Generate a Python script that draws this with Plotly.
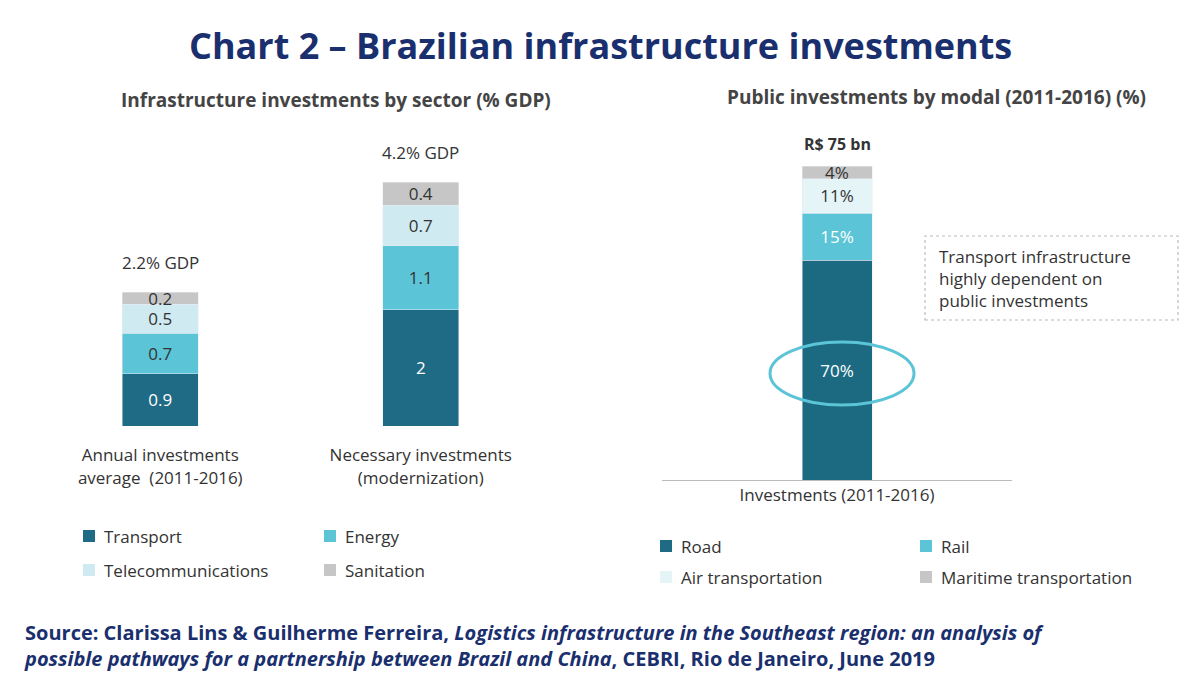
import plotly.graph_objects as go

# left chart: infrastructure investments by sector (% GDP)
cats_left = ["Annual investments<br>average  (2011-2016)", "Necessary investments<br>(modernization)"]
transport = [0.9, 2]
energy = [0.7, 1.1]
telecom = [0.5, 0.7]
sanitation = [0.2, 0.4]
totals_left = ["2.2% GDP", "4.2% GDP"]

# right chart: public investments by modal (%)
cats_right = ["Investments (2011-2016)"]
road = [70]
rail = [15]
air = [11]
maritime = [4]

c_dark = "#1f6b85"
c_mid = "#5bc4d6"
c_light = "#cfeaf0"
c_gray = "#c6c6c6"
txt = "#333333"
navy = "#1a2f6e"

W, H, OFF = 1200, 675, 8


def fx(p):
    return (p - OFF) / W


def fy(p):
    return 1 - (p - OFF) / H


fig = go.Figure()

xl = list(range(len(cats_left)))
for vals, col, fc in [(transport, c_dark, "white"), (energy, c_mid, txt),
                      (telecom, c_light, txt), (sanitation, c_gray, txt)]:
    fig.add_bar(x=xl, y=vals, marker_color=col, width=0.29, text=[str(v) for v in vals],
                textposition="inside", insidetextanchor="middle",
                textfont=dict(size=17, color=fc), xaxis="x", yaxis="y", showlegend=False)

for vals, col, fc, lab in [(road, "#1c6a82", "white", ["70%"]), (rail, c_mid, "white", ["15%"]),
                           (air, "#e4f4f7", txt, ["11%"]), (maritime, c_gray, txt, ["4%"])]:
    fig.add_bar(x=[0], y=vals, marker_color=col, width=0.2, text=lab,
                textposition="inside", insidetextanchor="middle",
                textfont=dict(size=17, color=fc), xaxis="x2", yaxis="y2", showlegend=False)

fig.update_layout(
    barmode="stack", width=W, height=H, margin=dict(l=0, r=0, t=0, b=0),
    plot_bgcolor="white", paper_bgcolor="white",
    font=dict(family="Open Sans", color=txt),
    uniformtext=dict(mode="show", minsize=15),
    xaxis=dict(domain=[fx(30), fx(551)], range=[-0.5, 1.5], tickvals=xl, ticktext=cats_left,
               showgrid=False, zeroline=False, showline=False,
               tickfont=dict(size=17, color=txt), ticks="outside", ticklen=14, tickcolor="white",
               anchor="y"),
    yaxis=dict(domain=[fy(426), fy(182)], range=[0, 4.2], visible=False),
    xaxis2=dict(domain=[fx(662), fx(1012)], range=[-0.5, 0.5], tickvals=[0], ticktext=cats_right,
                showgrid=False, zeroline=False, showline=True, linecolor="#bbb", linewidth=1,
                tickfont=dict(size=17, color=txt), ticks="", anchor="y2"),
    yaxis2=dict(domain=[fy(480), fy(166)], range=[0, 100], visible=False, anchor="x2"),
)

ann = [
    dict(text="<b>Chart 2 – Brazilian infrastructure investments</b>", x=fx(600), y=fy(45),
         font=dict(size=36, color=navy, family="Open Sans"), showarrow=False, xref="paper", yref="paper"),
    dict(text="<b>Infrastructure investments by sector (% GDP)</b>", x=fx(336), y=fy(100),
         font=dict(size=19, color="#444"), showarrow=False, xref="paper", yref="paper"),
    dict(text="<b>Public investments by modal (2011-2016) (%)</b>", x=fx(936), y=fy(97),
         font=dict(size=19, color="#444"), showarrow=False, xref="paper", yref="paper"),
    dict(text="<b>R$ 75 bn</b>", x=0, y=100, xref="x2", yref="y2", yshift=22, showarrow=False,
         font=dict(size=16, color=txt)),
    dict(text="Transport infrastructure<br>highly dependent on<br>public investments", x=fx(937),
         y=fy(278), xref="paper", yref="paper", xanchor="left", align="left", showarrow=False,
         font=dict(size=17, color=txt)),
    dict(text="<b>Source: Clarissa Lins & Guilherme Ferreira, <i>Logistics infrastructure in the Southeast region: an analysis of<br>"
              "possible pathways for a partnership between Brazil and China</i>, CEBRI, Rio de Janeiro, June 2019</b>",
         x=fx(22), y=fy(645), xref="paper", yref="paper", xanchor="left", align="left",
         showarrow=False, font=dict(size=20, color=navy)),
]
for i, t in enumerate(totals_left):
    tot = transport[i] + energy[i] + telecom[i] + sanitation[i]
    ann.append(dict(text=t, x=xl[i], y=tot, xref="x", yref="y", yshift=30, showarrow=False,
                    font=dict(size=17, color=txt)))
for a in ann:
    a.setdefault("xanchor", "center")
    a["yanchor"] = "middle"

shapes = [
    dict(type="rect", xref="paper", yref="paper", x0=fx(925), x1=fx(1178),
         y0=fy(320), y1=fy(236), line=dict(color="#bbb", width=1.2, dash="dot")),
    dict(type="circle", xref="paper", yref="paper", x0=fx(770), x1=fx(914),
         y0=fy(405), y1=fy(342), line=dict(color=c_mid, width=3)),
]

legends = [
    (["Transport", "Energy", "Telecommunications", "Sanitation"], [c_dark, c_mid, c_light, c_gray],
     [83, 324], [536, 570]),
    (["Road", "Rail", "Air transportation", "Maritime transportation"], [c_dark, c_mid, "#e4f4f7", c_gray],
     [660, 920], [546, 577]),
]
for names, cols, xs, ys in legends:
    for k, (n, c) in enumerate(zip(names, cols)):
        px, py = xs[k % 2], ys[k // 2]
        shapes.append(dict(type="rect", xref="paper", yref="paper", x0=fx(px), x1=fx(px + 12),
                           y0=fy(py + 6), y1=fy(py - 6), fillcolor=c, line_width=0))
        ann.append(dict(text=n, x=fx(px + 19), y=fy(py), xref="paper", yref="paper",
                        xanchor="left", yanchor="middle", showarrow=False, font=dict(size=17, color=txt)))

fig.update_layout(annotations=ann, shapes=shapes)
fig.write_html("out.html")
